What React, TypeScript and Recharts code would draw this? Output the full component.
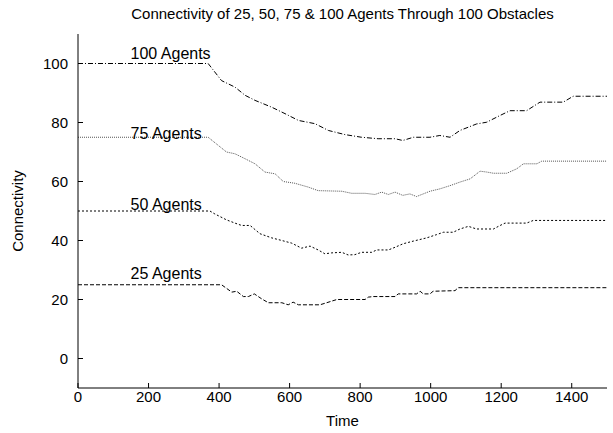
import { LineChart, Line, XAxis, YAxis, ReferenceDot } from 'recharts';

const timeTicks = [0, 200, 400, 600, 800, 1000, 1200, 1400];
const connTicks = [0, 20, 40, 60, 80, 100];

// 100 agents
const agents100Time = [0, 369, 407, 445, 474, 502, 549, 587, 625, 672, 710, 757, 804, 851, 899, 921, 951, 998, 1026, 1055, 1083, 1130, 1159, 1197, 1225, 1272, 1310, 1376, 1404, 1500];
const agents100Value = [100, 100, 94.2, 92, 89.2, 87.5, 85.2, 83, 80.7, 79.6, 77.3, 75.9, 75, 74.5, 74.5, 73.9, 75, 75, 75.6, 75, 77.3, 79.5, 80.1, 82.4, 84, 84, 86.9, 86.9, 88.9, 88.9];

// 75 agents
const agents75Time = [0, 369, 421, 445, 474, 502, 530, 559, 582, 615, 653, 681, 748, 776, 814, 842, 861, 880, 899, 921, 941, 960, 998, 1026, 1055, 1083, 1112, 1140, 1159, 1178, 1216, 1244, 1263, 1301, 1315, 1500];
const agents75Value = [75, 75, 70, 69.4, 67.7, 66, 63.2, 62.6, 60, 59.4, 58.1, 56.9, 56.7, 56, 56, 55.6, 56.4, 55.6, 56.4, 55.3, 55.8, 54.9, 56.7, 57.5, 58.6, 59.8, 60.9, 63.5, 63.2, 62.8, 62.8, 64.3, 66, 66, 66.9, 66.9];

// 50 agents
const agents50Time = [0, 374, 388, 421, 445, 464, 488, 516, 549, 578, 606, 634, 658, 681, 700, 719, 748, 766, 785, 804, 833, 847, 880, 899, 922, 951, 989, 1017, 1036, 1064, 1083, 1107, 1130, 1178, 1197, 1211, 1272, 1291, 1500];
const agents50Value = [50, 50, 49, 47, 45.9, 45.1, 45.1, 42.3, 40.9, 40, 39.1, 37.4, 38.1, 36.8, 35.5, 35.8, 36, 35.1, 35.2, 36, 36, 36.8, 36.8, 37.7, 38.9, 39.8, 40.9, 42, 42.8, 42.8, 43.9, 44.8, 43.9, 43.9, 45.1, 45.9, 45.9, 46.8, 46.8];

// 25 agents
const agents25Time = [0, 407, 436, 450, 469, 483, 500, 521, 540, 578, 596, 610, 625, 686, 705, 734, 814, 823, 837, 899, 908, 960, 970, 979, 998, 1007, 1069, 1078, 1500];
const agents25Value = [25, 25, 22.5, 22.8, 21, 21, 21.9, 20.2, 18.9, 18.9, 18.2, 19.1, 18.2, 18.2, 18.9, 20, 20, 20.8, 21, 21, 21.9, 21.9, 22.8, 21.9, 21.9, 22.8, 23, 24, 24];

const seriesLabels = ['100 Agents', '75 Agents', '50 Agents', '25 Agents'];
const labelTime = [149, 149, 149, 149];
const labelValue = [103.4, 76.4, 52.4, 29];

const zip = (t: number[], v: number[]) => t.map((time, i) => ({ time, value: v[i] }));

const series = [
  { name: '100 Agents', data: zip(agents100Time, agents100Value), dash: '5 2 1 2', color: '#000' },
  { name: '75 Agents', data: zip(agents75Time, agents75Value), dash: '1 1', color: '#555' },
  { name: '50 Agents', data: zip(agents50Time, agents50Value), dash: '2 2', color: '#000' },
  { name: '25 Agents', data: zip(agents25Time, agents25Value), dash: '4 2', color: '#000' },
];

const font = '"Liberation Sans", Arial, Helvetica, sans-serif';

const App = () => {
  return (
    <div style={{ position: 'absolute', left: 0, top: 0, width: 613, height: 433, background: '#fff', fontFamily: font }}>
      <div
        style={{
          position: 'absolute',
          left: 78,
          width: 529,
          top: 6,
          textAlign: 'center',
          fontSize: 15,
          lineHeight: '15px',
          color: '#000',
        }}
      >
        Connectivity of 25, 50, 75 &amp; 100 Agents Through 100 Obstacles
      </div>
      <LineChart width={613} height={433} margin={{ top: 34, right: 6, bottom: 0, left: 0 }}>
        <XAxis
          xAxisId="bottom"
          type="number"
          dataKey="time"
          domain={[0, 1500]}
          ticks={timeTicks}
          height={45}
          tickSize={-5}
          tickMargin={8}
          stroke="#000"
          tick={{ fill: '#000', fontSize: 15, fontFamily: font }}
          label={{ value: 'Time', position: 'insideBottom', offset: 7, fill: '#000', fontSize: 15, fontFamily: font }}
        />
        <XAxis
          xAxisId="top"
          orientation="top"
          type="number"
          dataKey="time"
          domain={[0, 1500]}
          ticks={timeTicks}
          height={0}
          tickSize={-5}
          tick={false}
          stroke="#000"
        />
        <YAxis
          yAxisId="left"
          type="number"
          domain={[-10, 110]}
          ticks={connTicks}
          width={78}
          tickSize={-5}
          tickMargin={15}
          stroke="#000"
          tick={{ fill: '#000', fontSize: 15, fontFamily: font }}
          label={{ value: 'Connectivity', angle: -90, position: 'center', dx: -21, fill: '#000', fontSize: 15, fontFamily: font }}
        />
        <YAxis
          yAxisId="right"
          orientation="right"
          type="number"
          domain={[-10, 110]}
          ticks={connTicks}
          width={0}
          tickSize={-5}
          tick={false}
          stroke="#000"
        />
        {series.map((s) => (
          <Line
            key={s.name}
            xAxisId="bottom"
            yAxisId="left"
            data={s.data}
            dataKey="value"
            type="linear"
            stroke={s.color}
            strokeWidth={1}
            strokeDasharray={s.dash}
            dot={false}
            activeDot={false}
            isAnimationActive={false}
          />
        ))}
        {seriesLabels.map((name, i) => (
          <ReferenceDot
            key={name}
            xAxisId="bottom"
            yAxisId="left"
            x={labelTime[i]}
            y={labelValue[i]}
            r={0}
            fill="none"
            stroke="none"
            label={{ value: name, position: 'right', offset: 0, fill: '#000', fontSize: 16, fontFamily: font }}
          />
        ))}
      </LineChart>
    </div>
  );
};

export default App;
